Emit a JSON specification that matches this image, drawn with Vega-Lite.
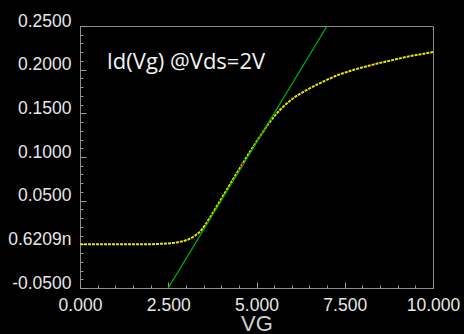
{
  "$schema": "https://vega.github.io/schema/vega-lite/v6.json",
  "width": 353,
  "height": 262,
  "autosize": {"type": "none"},
  "padding": {"left": 80, "top": 26, "right": 31, "bottom": 46},
  "background": "#000000",
  "config": {
    "view": {"stroke": "#8c8c8c", "strokeWidth": 1},
    "axis": {
      "grid": false,
      "domain": false,
      "tickColor": "#9a9a9a",
      "tickWidth": 1,
      "labelFont": "Liberation Sans",
      "labelFontSize": 17.5,
      "labelColor": "#e6e6e6",
      "titleFont": "Liberation Sans",
      "labelOverlap": false,
      "labelBound": false,
      "labelFlush": false
    }
  },
  "datasets": {
    "curve": [
      {"VG": 0, "Id": 0},
      {"VG": 0.5, "Id": 0},
      {"VG": 1.0, "Id": 0},
      {"VG": 1.5, "Id": 0},
      {"VG": 2.0, "Id": 0.0001},
      {"VG": 2.3, "Id": 0.0006},
      {"VG": 2.55, "Id": 0.0012},
      {"VG": 2.75, "Id": 0.0022},
      {"VG": 2.93, "Id": 0.0038},
      {"VG": 3.1, "Id": 0.0062},
      {"VG": 3.21, "Id": 0.0087},
      {"VG": 3.3, "Id": 0.0112},
      {"VG": 3.4, "Id": 0.0145},
      {"VG": 3.54, "Id": 0.0218},
      {"VG": 3.66, "Id": 0.0292},
      {"VG": 3.8, "Id": 0.0385},
      {"VG": 4.0, "Id": 0.052},
      {"VG": 4.2, "Id": 0.0653},
      {"VG": 4.4, "Id": 0.0787},
      {"VG": 4.61, "Id": 0.0925},
      {"VG": 4.8, "Id": 0.105},
      {"VG": 5.0, "Id": 0.1175},
      {"VG": 5.1, "Id": 0.1236},
      {"VG": 5.29, "Id": 0.1352},
      {"VG": 5.48, "Id": 0.1455},
      {"VG": 5.76, "Id": 0.1576},
      {"VG": 6.04, "Id": 0.1672},
      {"VG": 6.42, "Id": 0.1767},
      {"VG": 6.89, "Id": 0.1863},
      {"VG": 7.37, "Id": 0.1948},
      {"VG": 7.8, "Id": 0.2003},
      {"VG": 8.3, "Id": 0.2058},
      {"VG": 8.8, "Id": 0.2105},
      {"VG": 9.3, "Id": 0.215},
      {"VG": 9.7, "Id": 0.218},
      {"VG": 10, "Id": 0.2202}
    ],
    "tangent": [
      {"VG": 2.5, "Id": -0.05},
      {"VG": 7.0, "Id": 0.25}
    ],
    "marker": [
      {"VG": 4.61, "Id": 0.0908}
    ],
    "note": [
      {"VG": 0.756, "Id": 0.2008, "label": "Id(Vg) @Vds=2V"}
    ]
  },
  "layer": [
    {
      "data": {"name": "curve"},
      "mark": {"type": "line", "color": "#e6e600", "strokeWidth": 2, "strokeDash": [3, 1], "interpolate": "monotone"},
      "encoding": {
        "x": {
          "field": "VG", "type": "quantitative",
          "scale": {"domain": [0, 10], "nice": false, "zero": false},
          "axis": {
            "orient": "bottom",
            "values": [0, 2.5, 5, 7.5, 10],
            "format": ".3f",
            "ticks": false,
            "labelBaseline": "top",
            "labelPadding": 8.5,
            "title": "VG",
            "titleFontSize": 22,
            "titleFontWeight": "normal",
            "titleColor": "#cfcfcf",
            "titleBaseline": "alphabetic",
            "titleY": 42
          }
        },
        "y": {
          "field": "Id", "type": "quantitative",
          "scale": {"domain": [-0.05, 0.25], "nice": false, "zero": false},
          "axis": {
            "orient": "left",
            "values": [-0.05, 0, 0.05, 0.1, 0.15, 0.2, 0.25],
            "ticks": false,
            "labelBaseline": "alphabetic",
            "labelPadding": 9,
            "labelExpr": "datum.value == 0 ? '0.6209n' : (datum.value < 0 ? '-' + format(-datum.value, '.4f') : format(datum.value, '.4f'))",
            "title": null
          }
        }
      }
    },
    {
      "data": {"name": "tangent"},
      "mark": {"type": "line", "color": "#00b000", "strokeWidth": 1.3},
      "encoding": {
        "x": {
          "field": "VG", "type": "quantitative",
          "scale": {"domain": [0, 10], "nice": false, "zero": false},
          "axis": {
            "orient": "top",
            "offset": -262,
            "values": [0, 2.5, 5, 7.5, 10],
            "tickSize": 6,
            "labels": false,
            "title": null
          }
        },
        "y": {
          "field": "Id", "type": "quantitative",
          "scale": {"domain": [-0.05, 0.25], "nice": false, "zero": false},
          "axis": {
            "orient": "right",
            "offset": -353,
            "values": [-0.05, 0, 0.05, 0.1, 0.15, 0.2, 0.25],
            "tickSize": 6,
            "labels": false,
            "title": null
          }
        }
      }
    },
    {
      "data": {"name": "marker"},
      "mark": {"type": "point", "filled": true, "color": "#d00000", "size": 6, "opacity": 1},
      "encoding": {
        "x": {
          "field": "VG", "type": "quantitative",
          "scale": {"domain": [0, 10], "nice": false, "zero": false},
          "axis": {
            "orient": "top",
            "offset": -262,
            "values": [0, 0.5, 1, 1.5, 2, 2.5, 3, 3.5, 4, 4.5, 5, 5.5, 6, 6.5, 7, 7.5, 8, 8.5, 9, 9.5, 10],
            "tickSize": 3,
            "labels": false,
            "title": null
          }
        },
        "y": {
          "field": "Id", "type": "quantitative",
          "scale": {"domain": [-0.05, 0.25], "nice": false, "zero": false},
          "axis": {
            "orient": "right",
            "offset": -353,
            "values": [-0.05, -0.04, -0.03, -0.02, -0.01, 0, 0.01, 0.02, 0.03, 0.04, 0.05, 0.06, 0.07, 0.08, 0.09, 0.1, 0.11, 0.12, 0.13, 0.14, 0.15, 0.16, 0.17, 0.18, 0.19, 0.2, 0.21, 0.22, 0.23, 0.24, 0.25],
            "tickSize": 3,
            "labels": false,
            "title": null
          }
        }
      }
    },
    {
      "data": {"name": "note"},
      "mark": {"type": "text", "align": "left", "baseline": "alphabetic", "font": "Open Sans", "fontSize": 22, "color": "#f2f2f2"},
      "encoding": {
        "x": {"field": "VG", "type": "quantitative", "scale": {"domain": [0, 10], "nice": false, "zero": false}, "axis": null},
        "y": {"field": "Id", "type": "quantitative", "scale": {"domain": [-0.05, 0.25], "nice": false, "zero": false}, "axis": null},
        "text": {"field": "label"}
      }
    }
  ],
  "resolve": {
    "scale": {"x": "independent", "y": "independent"},
    "axis": {"x": "independent", "y": "independent"}
  }
}
